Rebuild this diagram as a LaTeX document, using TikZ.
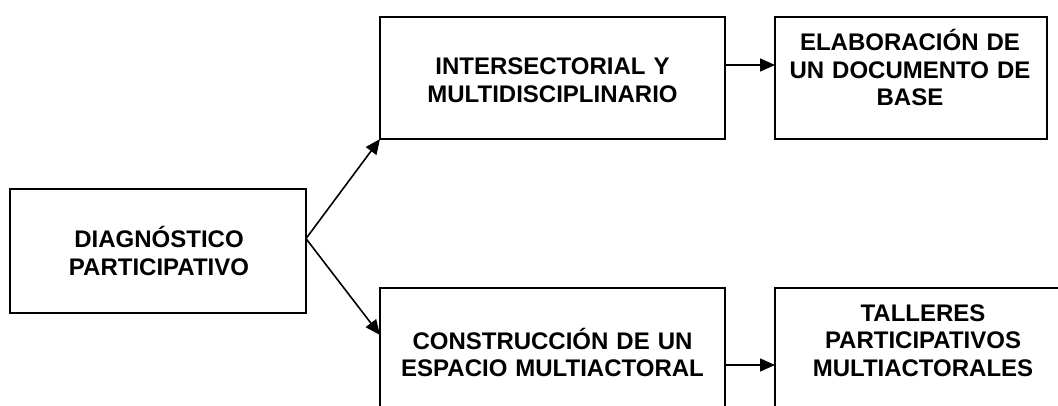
\documentclass[tikz,border=0pt]{standalone}
\usepackage{fontspec}
\setmainfont{Liberation Sans}
\usetikzlibrary{arrows.meta,calc}
\begin{document}
\begin{tikzpicture}[x=1pt,y=-1pt,
  boxnode/.style={draw,line width=2pt,rectangle,inner sep=0pt,outer sep=0pt},
  txtnode/.style={font=\bfseries\fontsize{24pt}{27.5pt}\selectfont,text width=340pt,align=center,anchor=base,inner sep=0pt},
  conn/.style={line width=1.6pt,-{Triangle[length=15pt,width=13pt]}}]
\useasboundingbox (0,0) rectangle (1058,406);
\clip (0,0) rectangle (1058,406);
\fill[white] (0,0) rectangle (1058,406);
% boxes
\node[boxnode,minimum width=296pt,minimum height=124pt] (A) at (158,251) {};
\node[boxnode,minimum width=345pt,minimum height=122pt] (B) at (552.5,78) {};
\node[boxnode,minimum width=272pt,minimum height=122pt] (C) at (911,78) {};
\node[boxnode,minimum width=345pt,minimum height=142pt] (D) at (552.5,359) {};
\node[boxnode,minimum width=296pt,minimum height=142pt] (E) at (923,359) {};
% texts
\node[txtnode] (tA) at (159,248) {DIAGNÓSTICO\\PARTICIPATIVO};
\node[txtnode] (tB) at (552.5,75) {INTERSECTORIAL Y\\MULTIDISCIPLINARIO};
\node[txtnode] (tC) at (910,51) {ELABORACIÓN DE\\UN DOCUMENTO DE\\BASE};
\node[txtnode] (tD) at (552.5,349) {CONSTRUCCIÓN DE UN\\ESPACIO MULTIACTORAL};
\node[txtnode] (tE) at (923,321) {TALLERES\\PARTICIPATIVOS\\MULTIACTORALES};
% connectors
\coordinate (As) at ($(A.north east)!0.4!(A.south east)$);
\coordinate (Dt) at ($(D.north west)+(0,47)$);
\coordinate (Bo) at ($(B.north east)+(0,48)$);
\coordinate (Ci) at ($(C.north west)+(0,48)$);
\coordinate (Do) at ($(D.north east)+(0,77)$);
\coordinate (Ei) at ($(E.north west)+(0,77)$);
\draw[conn] (As) -- (B.south west);
\draw[conn] (As) -- (Dt);
\draw[conn] (Bo) -- (Ci);
\draw[conn] (Do) -- (Ei);
\end{tikzpicture}
\end{document}
